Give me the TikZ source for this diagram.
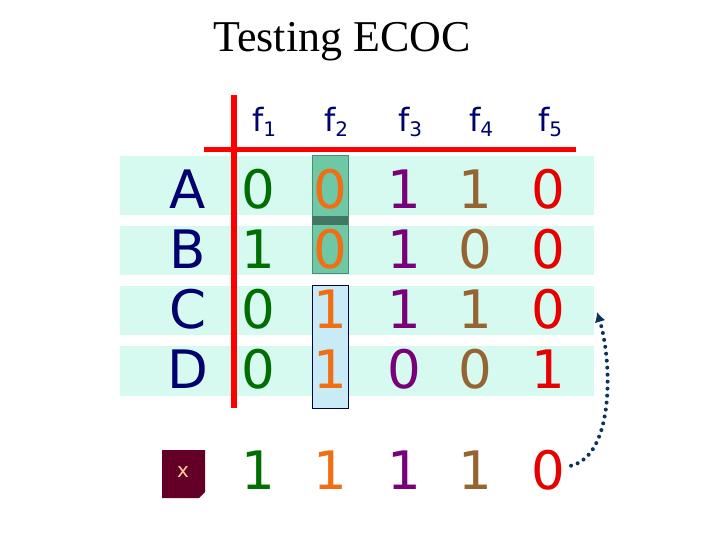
\documentclass[tikz,border=0pt]{standalone}
\usepackage{fontspec}
\usetikzlibrary{arrows.meta}
\setmainfont{Liberation Serif}
\newfontfamily\djv{DejaVu Sans}
\definecolor{navy}{RGB}{0,0,110}
\definecolor{cA}{RGB}{0,110,0}
\definecolor{cB}{RGB}{240,110,20}
\definecolor{cC}{RGB}{120,0,120}
\definecolor{cD}{RGB}{150,100,50}
\definecolor{cE}{RGB}{230,0,0}
\definecolor{band}{RGB}{215,250,240}
\definecolor{hgreen}{RGB}{110,200,165}
\definecolor{hblue}{RGB}{200,235,245}
\definecolor{maroon}{RGB}{100,0,40}
\definecolor{arr}{RGB}{10,50,90}
\newcommand{\fsub}[1]{f\raisebox{-5pt}{\fontsize{20}{20}\selectfont #1}}
\begin{document}
\begin{tikzpicture}[x=1pt,y=-1pt,
  big/.style={font=\djv\fontsize{53}{53}\selectfont,inner sep=0},
  hdr/.style={font=\djv\fontsize{32}{32}\selectfont,text=navy,inner sep=0}]
\useasboundingbox (0,0) rectangle (720,540);
\fill[band] (120,156) rectangle (594,215);
\fill[band] (120,226) rectangle (594,275);
\fill[band] (120,286) rectangle (594,335);
\fill[band] (120,346) rectangle (594,396);
\fill[hgreen,draw=hgreen!70!black,thin] (312,155) rectangle (348,273);
\fill[hgreen!60!black] (312,216) rectangle (348,225);
\fill[hblue,draw=navy!70!black,thin] (312,285) rectangle (348,408);
\node[font=\fontsize{44}{44}\selectfont] (title) at (342,42) {Testing ECOC};
\draw[red,line width=5pt] (204,150) -- (576,150);
\draw[red,line width=6pt] (234,95) -- (234,408);
\foreach \x/\i in {264/1,336/2,410/3,481/4,550/5}
  \node[hdr,anchor=base] (h\i) at (\x,132) {\fsub{\i}};
\foreach \l/\y in {A/208,B/268,C/328,D/388}
  \node[big,text=navy,anchor=base] (r\l) at (188,\y) {\l};
\foreach \y/\a/\b/\c/\d/\e [count=\r] in {208/0/0/1/1/0,268/1/0/1/0/0,328/0/1/1/1/0,388/0/1/0/0/1}{
  \node[big,text=cA,anchor=base] (a\r) at (258,\y) {\a};
  \node[big,text=cB,anchor=base] (b\r) at (330,\y) {\b};
  \node[big,text=cC,anchor=base] (c\r) at (404,\y) {\c};
  \node[big,text=cD,anchor=base] (d\r) at (475,\y) {\d};
  \node[big,text=cE,anchor=base] (e\r) at (548,\y) {\e};
}
\fill[maroon] (162,450) -- (205,450) -- (205,492) -- (199,498) -- (162,498) -- cycle;
\node[text=orange!40,font=\djv\fontsize{20}{20}\selectfont] (X) at (183,472) {x};
\node[big,text=cA,anchor=base] (xa) at (258,489) {1};
\node[big,text=cB,anchor=base] (xb) at (330,489) {1};
\node[big,text=cC,anchor=base] (xc) at (404,489) {1};
\node[big,text=cD,anchor=base] (xd) at (475,489) {1};
\node[big,text=cE,anchor=base] (xe) at (548,489) {0};
\coordinate (tip) at (597,312);
\draw[arr,line width=4pt,line cap=round,dash pattern=on 0pt off 7pt,-{Latex[length=10pt,width=11pt]}] (xe.east) ++(6,-4) .. controls (615,455) and (612,360) .. (tip);
\end{tikzpicture}
\end{document}
